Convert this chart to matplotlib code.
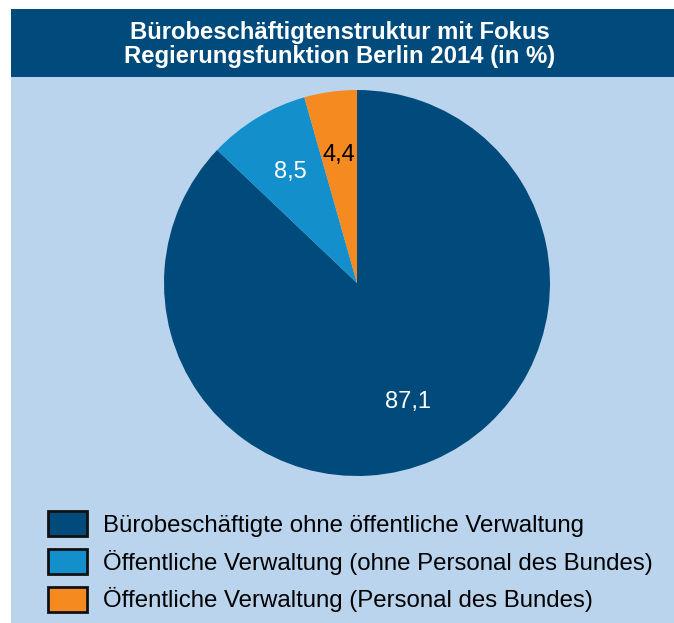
import matplotlib
matplotlib.use("Agg")
import matplotlib.pyplot as plt
from matplotlib.patches import Rectangle, Patch

categories = ["Bürobeschäftigte ohne öffentliche Verwaltung",
              "Öffentliche Verwaltung (ohne Personal des Bundes)",
              "Öffentliche Verwaltung (Personal des Bundes)"]
values = [87.1, 8.5, 4.4]
value_labels = ["87,1", "8,5", "4,4"]
colors = ["#004a7c", "#1390cc", "#f58a20"]
label_colors = ["white", "white", "black"]
title_lines = ["Bürobeschäftigtenstruktur mit Fokus",
               "Regierungsfunktion Berlin 2014 (in %)"]

W, H = 674, 623
fig = plt.figure(figsize=(W / 100, H / 100), dpi=100)
fig.patch.set_facecolor("white")

def fx(x): return x / W
def fy(y): return 1 - y / H

# background panel and title bar
fig.add_artist(Rectangle((fx(11), fy(H)), 1 - fx(11), fy(77) - fy(H),
                         transform=fig.transFigure, facecolor="#b9d4ec", edgecolor="none", zorder=0))
fig.add_artist(Rectangle((fx(11), fy(77)), 1 - fx(11), fy(9) - fy(77),
                         transform=fig.transFigure, facecolor="#004a7c", edgecolor="none", zorder=0))
for line, yy in zip(title_lines, [32, 57]):
    fig.text(fx(340), fy(yy), line, ha="center", va="center", color="white",
             fontsize=17.2, fontweight="bold", family="Liberation Sans")

# pie
cx, cy, r = 357, 283, 193
ax = fig.add_axes([fx(cx - r), fy(cy + r), 2 * r / W, 2 * r / H])
ax.set_facecolor("none")
wedges, texts = ax.pie(values, colors=colors, startangle=90, counterclock=False,
                       radius=1, labels=value_labels, labeldistance=0.67,
                       wedgeprops=dict(edgecolor="none", linewidth=0))
for t, c in zip(texts, label_colors):
    t.set_color(c)
    t.set_fontsize(17)
    t.set_family("Liberation Sans")
    t.set_ha("center")
    t.set_va("center")
ax.set_xlim(-1, 1)
ax.set_ylim(-1, 1)
ax.set_aspect("equal")
ax.axis("off")

# legend
handles = [Patch(facecolor=c, edgecolor="#111111", linewidth=2) for c in colors]
fs = 17.3
fig.legend(handles, categories, loc="upper left", bbox_to_anchor=(fx(48), fy(511)),
           frameon=False, prop={"family": "Liberation Sans", "size": fs},
           handlelength=1.62, handleheight=1.25, handletextpad=0.68,
           labelspacing=0.5, borderpad=0, borderaxespad=0)

fig.savefig("out.png", dpi=100, facecolor=fig.get_facecolor())
